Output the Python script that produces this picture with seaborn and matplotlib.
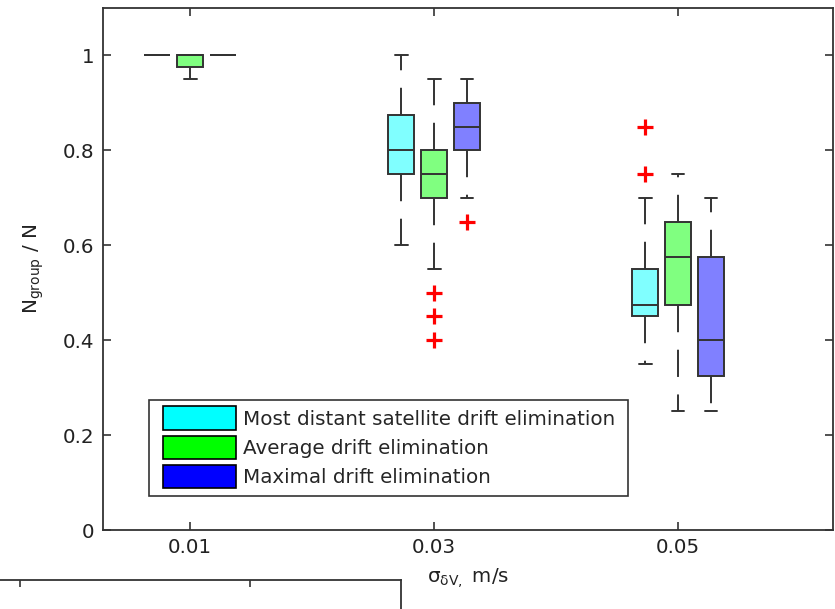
import matplotlib
matplotlib.use("Agg")
import numpy as np
import pandas as pd
import seaborn as sns
import matplotlib.pyplot as plt
from matplotlib.patches import Patch, Rectangle

# ---------------- data ----------------
sigma_labels = ["0.01", "0.03", "0.05"]
methods = ["Most distant satellite drift elimination",
           "Average drift elimination",
           "Maximal drift elimination"]

# samples of N_group/N for each (sigma, method)
most_distant_001 = [1.0, 1.0, 1.0, 1.0, 1.0, 1.0, 1.0, 1.0, 1.0]
average_001 = [0.95, 0.975, 0.975, 1.0, 1.0, 1.0, 1.0, 1.0, 1.0]
maximal_001 = [1.0, 1.0, 1.0, 1.0, 1.0, 1.0, 1.0, 1.0, 1.0]

most_distant_003 = [0.6, 0.7, 0.75, 0.75, 0.8, 0.85, 0.875, 0.9, 1.0]
average_003 = [0.4, 0.45, 0.5, 0.55, 0.7, 0.7, 0.7, 0.75, 0.75, 0.75,
               0.8, 0.8, 0.8, 0.85, 0.9, 0.95, 0.95]
maximal_003 = [0.649, 0.7, 0.8, 0.8, 0.85, 0.9, 0.9, 0.95, 0.95]

most_distant_005 = [0.35, 0.4, 0.45, 0.45, 0.45, 0.475, 0.475, 0.5, 0.55,
                    0.55, 0.7, 0.75, 0.85]
average_005 = [0.25, 0.4, 0.475, 0.5, 0.575, 0.6, 0.65, 0.7, 0.75]
maximal_005 = [0.25, 0.3, 0.325, 0.35, 0.4, 0.5, 0.575, 0.65, 0.7]

samples = {
    ("0.01", methods[0]): most_distant_001,
    ("0.01", methods[1]): average_001,
    ("0.01", methods[2]): maximal_001,
    ("0.03", methods[0]): most_distant_003,
    ("0.03", methods[1]): average_003,
    ("0.03", methods[2]): maximal_003,
    ("0.05", methods[0]): most_distant_005,
    ("0.05", methods[1]): average_005,
    ("0.05", methods[2]): maximal_005,
}

y_ticks = [0, 0.2, 0.4, 0.6, 0.8, 1.0]
y_tick_labels = ["0", "0.2", "0.4", "0.6", "0.8", "1"]

box_colors = ["#80ffff", "#80ff80", "#8080ff"]
legend_colors = ["#00ffff", "#00ff00", "#0000ff"]

rows = []
for (sig, meth), vals in samples.items():
    for v in vals:
        rows.append({"sigma": sig, "method": meth, "ratio": v})
df = pd.DataFrame(rows)

# ---------------- style ----------------
sns.set_style("white")
plt.rcParams["font.family"] = ["DejaVu Sans"]
plt.rcParams["mathtext.fontset"] = "dejavusans"
line_c = "#333333"
FS = 14.3

fig = plt.figure(figsize=(8.35, 6.09), dpi=100)
ax = fig.add_axes([103 / 835, 79 / 609, 730 / 835, 522 / 609])

sns.boxplot(
    data=df, x="sigma", y="ratio", hue="method",
    order=sigma_labels, hue_order=methods, palette=box_colors,
    width=0.405, gap=0.22, saturation=1, linecolor=line_c, linewidth=1.4,
    whiskerprops=dict(linestyle=(0, (14, 9))),
    flierprops=dict(marker="+", markeredgecolor="red", markerfacecolor="red",
                    markersize=11, markeredgewidth=2.3),
    legend=False, ax=ax,
)

ax.set_xlim(-0.357, 2.635)
ax.set_ylim(0, 1.1)
ax.set_yticks(y_ticks)
ax.set_yticklabels(y_tick_labels)
ax.set_xticks(range(len(sigma_labels)))
ax.set_xticklabels(sigma_labels)
ax.tick_params(direction="in", length=6, width=1.2, color=line_c,
               labelsize=FS, labelcolor="#222222", pad=6,
               top=True, right=True, bottom=True, left=True)
for s in ax.spines.values():
    s.set_visible(True)
    s.set_color(line_c)
    s.set_linewidth(1.3)

ax.set_ylabel(r"N$_{\mathrm{group}}$ / N", fontsize=FS, color="#222222", labelpad=12)
ax.set_xlabel(r"σ$_{\mathrm{δV,}}$ m/s", fontsize=FS, color="#222222", labelpad=6)

# legend
handles = [Patch(facecolor=c, edgecolor="black", linewidth=1.2) for c in legend_colors]
leg = ax.legend(handles, methods, loc="lower left",
                bbox_to_anchor=(0.0822, 0.080), borderpad=0, borderaxespad=0,
                frameon=False, fontsize=FS, handlelength=3.67, handleheight=1.45,
                handletextpad=0.35, labelspacing=0.28)
ax.add_patch(Rectangle((46 / 730, 34 / 522), 479 / 730, 96 / 522,
                       transform=ax.transAxes, facecolor="none",
                       edgecolor=line_c, linewidth=1.2, zorder=5))

# partial neighbouring axes visible at bottom-left edge
ax2 = fig.add_axes([-0.1, -0.2, 0.5802, 0.2476])
ax2.set_xlim(0, 1)
ax2.set_ylim(0, 1)
ax2.patch.set_alpha(0)
for side in ["left", "bottom"]:
    ax2.spines[side].set_visible(False)
for side in ["top", "right"]:
    ax2.spines[side].set_color(line_c)
    ax2.spines[side].set_linewidth(1.3)
ax2.set_xticks([0.2136, 0.6883])
ax2.set_yticks([])
ax2.tick_params(axis="x", direction="in", length=5, width=1.2, color=line_c,
                top=True, bottom=False, labelbottom=False, labeltop=False)

fig.savefig("out.png", dpi=100)
